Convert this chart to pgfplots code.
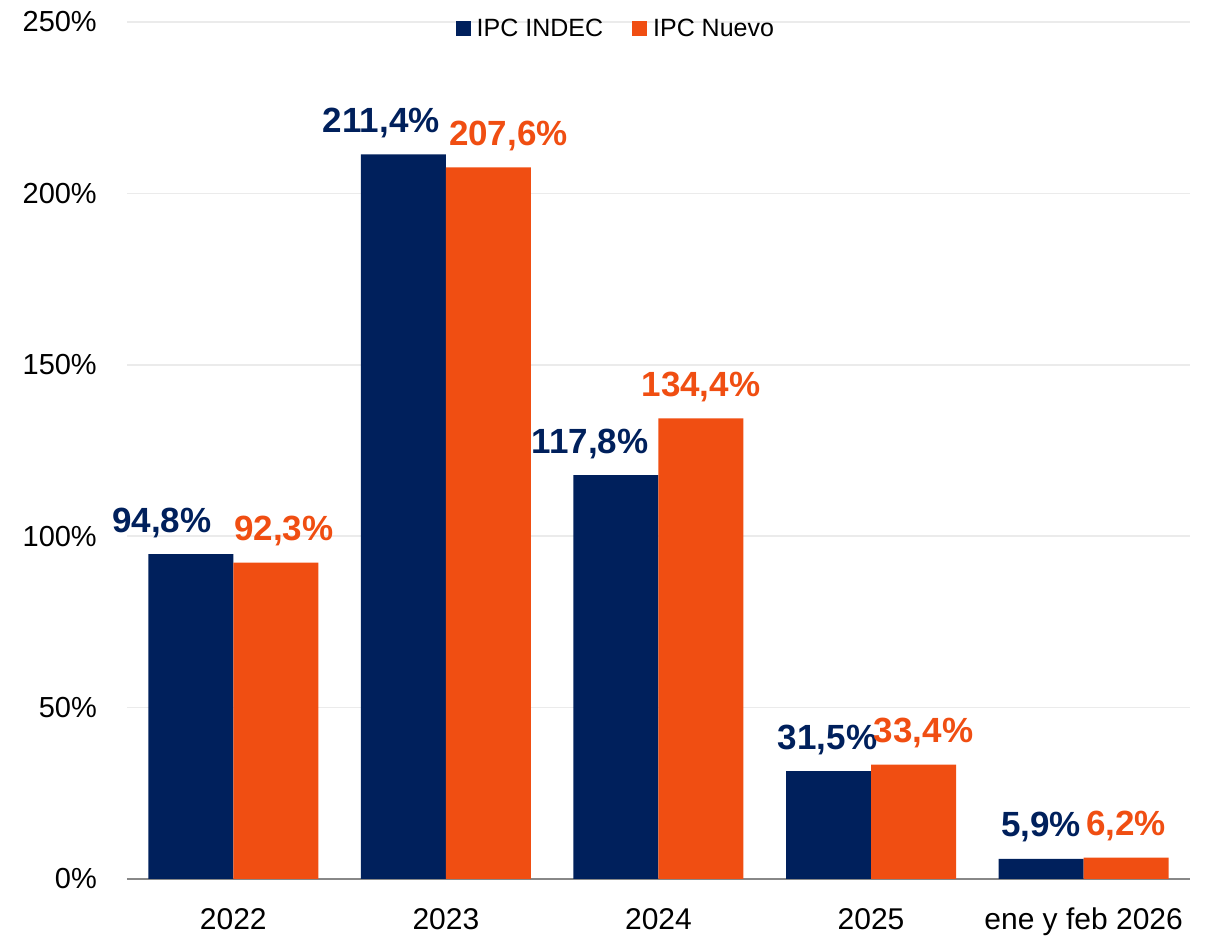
\documentclass[border=0pt]{standalone}
\usepackage{pgfplots}
\pgfplotsset{compat=1.18}
\usepackage{pgfplotstable}
\usepackage{fontspec}
\setmainfont{Liberation Sans}
\definecolor{navy}{HTML}{00205C}
\definecolor{orng}{HTML}{F04E12}
\definecolor{gridc}{HTML}{EBEBEB}
\definecolor{axc}{HTML}{888888}
\pgfplotstableread{
x y dx
0 94.8 -29
1 211.4 -22
2 117.8 -26
3 31.5 -1
4 5.9 0
}\indec
\pgfplotstableread{
x y dx
0 92.3 8
1 207.6 20
2 134.4 0
3 33.4 10
4 6.2 0
}\nuevo
\begin{document}
\begin{tikzpicture}
\begin{axis}[
  scale only axis,
  width=1063pt, height=857pt,
  ybar=0pt, bar width=85pt,
  xmin=-0.5, xmax=4.5, ymin=0, ymax=250,
  xtick=data,
  xticklabels={2022,2023,2024,2025,ene y feb 2026},
  ytick={0,50,100,150,200,250},
  yticklabels={0\%,50\%,100\%,150\%,200\%,250\%},
  major tick length=0pt,
  separate axis lines,
  axis x line*=bottom, axis y line*=left,
  x axis line style={draw=axc, line width=2pt},
  y axis line style={draw=none},
  ymajorgrids, grid style={draw=gridc, line width=1.5pt},
  tick label style={font=\fontsize{29}{32}\selectfont, text=black},
  xticklabel style={anchor=base, inner sep=0pt, yshift=-51pt, font=\fontsize{30}{34}\selectfont},
  yticklabel style={anchor=east, inner sep=0pt, xshift=-30pt},
  /pgf/number format/assume math mode=true,
  nodes near coords={\pgfmathprintnumber[fixed, fixed zerofill, precision=1, use comma]{\pgfplotspointmeta}\%},
  visualization depends on={\thisrow{dx} \as \dx},
  every node near coord/.append style={anchor=base, inner sep=0pt, yshift=22pt, xshift=\dx pt, font=\bfseries\fontsize{35}{40}\selectfont},
  legend columns=2,
  legend style={draw=none, fill=none, at={(0.459,0.992)}, anchor=center, font=\fontsize{25}{28}\selectfont,
    nodes={inner sep=0pt},
    /tikz/every even column/.append style={column sep=29pt}},
  legend image code/.code={\fill[#1] (0pt,-7.5pt) rectangle (15pt,7.5pt); \path (21pt,0pt);},
  clip=false,
]
\addplot[fill=navy, draw=none, every node near coord/.append style={text=navy}] table[x=x,y=y] {\indec};
\addplot[fill=orng, draw=none, every node near coord/.append style={text=orng}] table[x=x,y=y] {\nuevo};
\legend{IPC INDEC, IPC Nuevo}
\end{axis}
\pgfresetboundingbox
\path (current axis.south west) ++(-127pt,-57pt) rectangle ++(1210pt,936pt);
\end{tikzpicture}
\end{document}
